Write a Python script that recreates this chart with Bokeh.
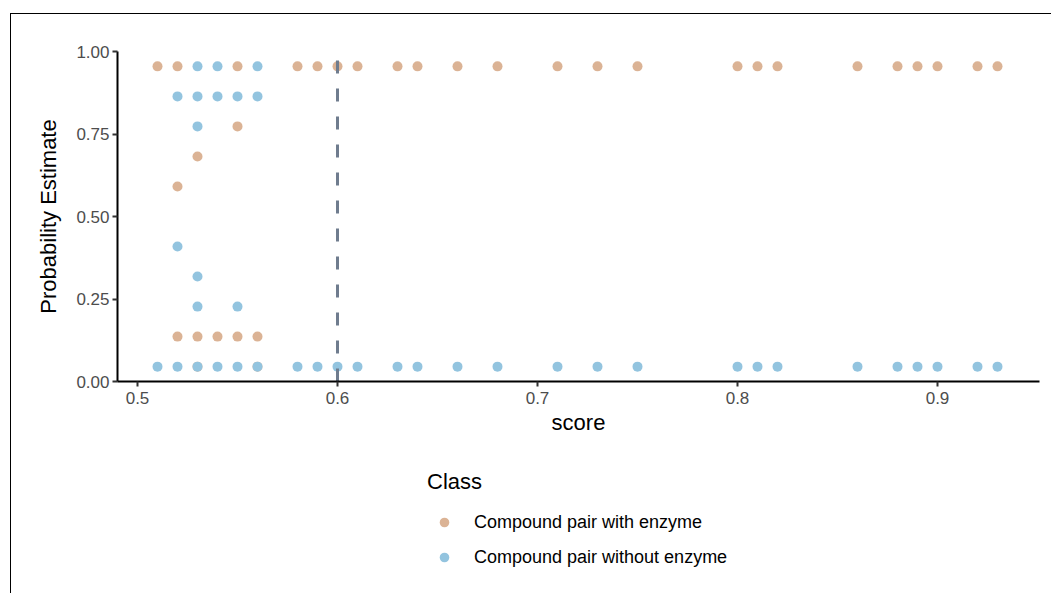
from bokeh.plotting import figure
from bokeh.layouts import column
from bokeh.models import ColumnDataSource, Legend, LegendItem, Range1d, FixedTicker, NumeralTickFormatter
from bokeh.embed import file_html
from bokeh.resources import INLINE

# ---- data ----
with_x = [0.51, 0.52, 0.55, 0.58, 0.59, 0.60, 0.61, 0.63, 0.64, 0.66, 0.68, 0.71, 0.73, 0.75,
          0.80, 0.81, 0.82, 0.86, 0.88, 0.89, 0.90, 0.92, 0.93,
          0.55, 0.53, 0.52,
          0.52, 0.53, 0.54, 0.55, 0.56,
          0.53, 0.56]
with_y = [0.955] * 23 + [0.773, 0.682, 0.591] + [0.136] * 5 + [0.045, 0.045]

without_x = [0.53, 0.54, 0.56,
             0.52, 0.53, 0.54, 0.55, 0.56,
             0.53, 0.52, 0.53, 0.53, 0.55,
             0.51, 0.52, 0.53, 0.54, 0.55, 0.56, 0.58, 0.59, 0.60, 0.61, 0.63, 0.64, 0.66,
             0.68, 0.71, 0.73, 0.75, 0.80, 0.81, 0.82, 0.86, 0.88, 0.89, 0.90, 0.92, 0.93]
without_y = ([0.955] * 3 + [0.864] * 5 + [0.773, 0.409, 0.318, 0.227, 0.227] + [0.045] * 26)

threshold = 0.6
x_ticks = [0.5, 0.6, 0.7, 0.8, 0.9]
y_ticks = [0.0, 0.25, 0.5, 0.75, 1.0]
class_labels = ["Compound pair with enzyme", "Compound pair without enzyme"]
colors = ["#DBB395", "#93C4DF"]

FONT = "Liberation Sans"

# ---------------- main plot ----------------
p = figure(frame_width=922, frame_height=330, output_backend="svg", toolbar_location=None,
           x_range=Range1d(0.49, 0.951), y_range=Range1d(0, 1))
p.min_border_left = 106
p.min_border_top = 37
p.min_border_right = 12
p.min_border_bottom = 70
p.outline_line_color = None
p.grid.visible = False
p.background_fill_color = "white"

src_w = ColumnDataSource(dict(x=with_x, y=with_y))
src_wo = ColumnDataSource(dict(x=without_x, y=without_y))
p.scatter("x", "y", source=src_w, size=10, fill_color=colors[0], line_color=None)
p.scatter("x", "y", source=src_wo, size=10, fill_color=colors[1], line_color=None)

p.segment(x0=[threshold], y0=[0], x1=[threshold], y1=[0.985], line_color="#6F7C8E",
          line_width=3, line_dash="13 15")

for ax in (p.xaxis[0], p.yaxis[0]):
    ax.axis_line_color = "black"
    ax.axis_line_width = 2
    ax.major_tick_line_color = "#333333"
    ax.major_tick_line_width = 2
    ax.major_tick_out = 5
    ax.major_tick_in = 0
    ax.minor_tick_line_color = None
    ax.major_label_text_font = FONT
    ax.major_label_text_font_size = "17px"
    ax.major_label_text_color = "#4D4D4D"
    ax.axis_label_text_font = FONT
    ax.axis_label_text_font_size = "22px"
    ax.axis_label_text_font_style = "normal"
    ax.axis_label_text_color = "black"

p.xaxis.ticker = FixedTicker(ticks=x_ticks)
p.yaxis.ticker = FixedTicker(ticks=y_ticks)
p.xaxis.formatter = NumeralTickFormatter(format="0.0")
p.yaxis.formatter = NumeralTickFormatter(format="0.00")
p.xaxis.axis_label = "score"
p.yaxis.axis_label = "Probability Estimate"
p.xaxis.major_label_standoff = 5
p.xaxis.axis_label_standoff = 3
p.yaxis.major_label_standoff = 3
p.yaxis.axis_label_standoff = 12

# ---------------- legend strip ----------------
p2 = figure(width=1040, height=142, output_backend="svg", toolbar_location=None,
            x_axis_location=None, y_axis_location=None,
            x_range=Range1d(0, 1), y_range=Range1d(0, 1))
p2.min_border = 0
p2.outline_line_color = None
p2.grid.visible = False
# legend keys (placed outside the visible range)
d1 = p2.scatter(x=[-10], y=[-10], size=10, fill_color=colors[0], line_color=None)
d2 = p2.scatter(x=[-10], y=[-10], size=10, fill_color=colors[1], line_color=None)

legend = Legend(items=[LegendItem(label=class_labels[0], renderers=[d1]),
                       LegendItem(label=class_labels[1], renderers=[d2])],
                title="Class", orientation="vertical", location=(310, 24))
legend.title_text_font = FONT
legend.title_text_font_size = "22px"
legend.title_text_font_style = "normal"
legend.title_text_color = "black"
legend.title_standoff = 15
legend.label_text_font = FONT
legend.label_text_font_size = "18px"
legend.label_text_color = "black"
legend.glyph_width = 34
legend.glyph_height = 24
legend.label_standoff = 13
legend.spacing = 11
legend.border_line_color = None
legend.background_fill_color = None
legend.padding = 0
legend.margin = 0
p2.add_layout(legend, "center")

layout = column(p, p2, spacing=0)
layout.margin = (13, 0, 0, 10)
layout.styles = {"border-left": "1px solid black", "border-top": "1px solid black"}

open("out.html", "w").write(file_html(layout, INLINE))
